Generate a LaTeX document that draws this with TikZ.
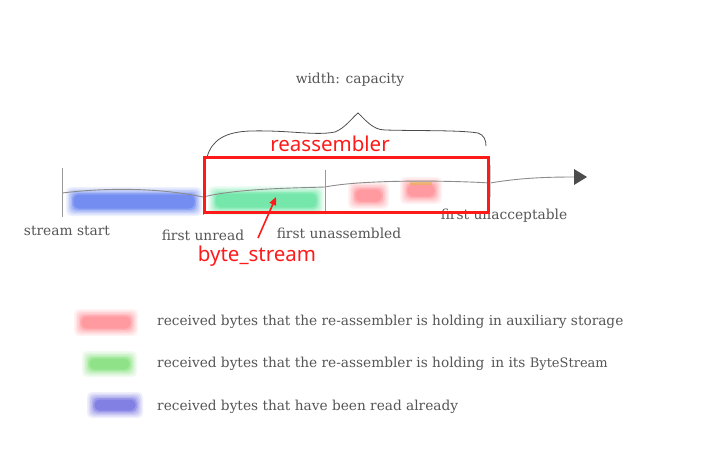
\documentclass[tikz,border=0pt]{standalone}
\usepackage{fontspec}
\setmainfont{DejaVu Serif}
\newfontfamily\redfont{Noto Sans}
\usetikzlibrary{arrows.meta}
\definecolor{lbl}{HTML}{555555}
\definecolor{rd}{HTML}{FF1A1A}
\definecolor{blueb}{HTML}{4A6CEC}
\definecolor{greenb}{HTML}{4EE092}
\definecolor{redb}{HTML}{FF7C84}
\definecolor{purpb}{HTML}{5F5ADC}
\definecolor{greenl}{HTML}{6FDA66}
\tikzset{
  lab/.style={text=lbl, font=\fontsize{13.8}{16}\selectfont, inner sep=0pt},
  leg/.style={text=lbl, font=\fontsize{13.7}{16}\selectfont, anchor=west, inner sep=0pt},
  redlab/.style={text=rd, font=\redfont\fontsize{20.5}{24}\selectfont, inner sep=0pt},
  tick/.style={draw=gray!80, line width=0.7pt},
  axis/.style={draw=gray!90, line width=0.9pt},
}
\newcommand{\blurbar}[5]{% x1 y1 x2 y2 color
  \foreach \d/\o in {6/0.1,4.5/0.12,3/0.15,1.5/0.2,0/0.3,-1.5/0.4}{
    \fill[#5, opacity=\o, rounded corners=5pt] (#1-\d,#2-\d) rectangle (#3+\d,#4+\d);
  }
}
\begin{document}
\begin{tikzpicture}[x=1pt,y=-1pt]
\useasboundingbox (0,0) rectangle (719,449);
% bars
\blurbar{72}{193}{196}{210}{blueb}
\blurbar{214}{192}{318}{209}{greenb}
\blurbar{354}{188}{383}{203}{redb}
\blurbar{406}{183}{436}{198}{redb}
\fill[brown!60!yellow, opacity=0.45] (410,182) rectangle (432,185);
% axis
\coordinate (a0) at (62,193);
\coordinate (a1) at (587,177);
\draw[axis] (a0) .. controls (120,186) and (170,190) .. (203,197)
  .. controls (240,188) and (300,188) .. (325,187)
  .. controls (360,180) and (440,180) .. (490,183)
  .. controls (520,178) and (545,177) .. (575,177);
\fill[gray!60!black] (574,169) -- (587,177) -- (574,185) -- cycle;
% ticks
\draw[tick] (62,168) -- (62,217);
\draw[tick] (203,178) -- (203,215);
\draw[tick] (325,170) -- (325,211);
\draw[tick, gray!40] (490,165) -- (490,197);
% brace
\draw[draw=gray!60!black, line width=0.8pt] (207,157) .. controls (212,140) and (225,132) .. (250,131)
  .. controls (290,130) and (315,136) .. (335,132)
  .. controls (345,128) and (352,118) .. (358,113)
  .. controls (364,118) and (372,130) .. (385,130)
  .. controls (420,131) and (460,130) .. (478,133)
  .. controls (484,135) and (486,140) .. (486,146);
% labels
\node[lab] (cap) at (350,80) {width: capacity};
\node[lab] (ss) at (67,231) {stream start};
\node[lab] (fu) at (203,235) {first unread};
\node[lab] (fua) at (339,233) {first unassembled};
\node[lab] (fuac) at (504,216) {first unacceptable};
% red box
\draw[rd, line width=3pt] (204,158) rectangle (488,212);
\node[redlab] (reas) at (330,144) {reassembler};
\node[redlab] (bs) at (257,256) {byte\_stream};
\coordinate (tip) at (276,197);
\draw[rd, line width=1.6pt, -{Triangle[length=8pt,width=7pt]}] (258,238) -- (tip);
% legend
\blurbar{80}{315}{132}{330}{redb}
\blurbar{88}{357}{131}{371}{greenl}
\blurbar{93}{398}{137}{412}{purpb}
\node[leg] (l1) at (157,322) {received bytes that the re-assembler is holding in auxiliary storage};
\node[leg] (l2) at (157,364) {received bytes that the re-assembler is holding \,in its {\fontsize{13}{15}\selectfont ByteStream}};
\node[leg] (l3) at (157,407) {received bytes that have been read already};
\end{tikzpicture}
\end{document}
